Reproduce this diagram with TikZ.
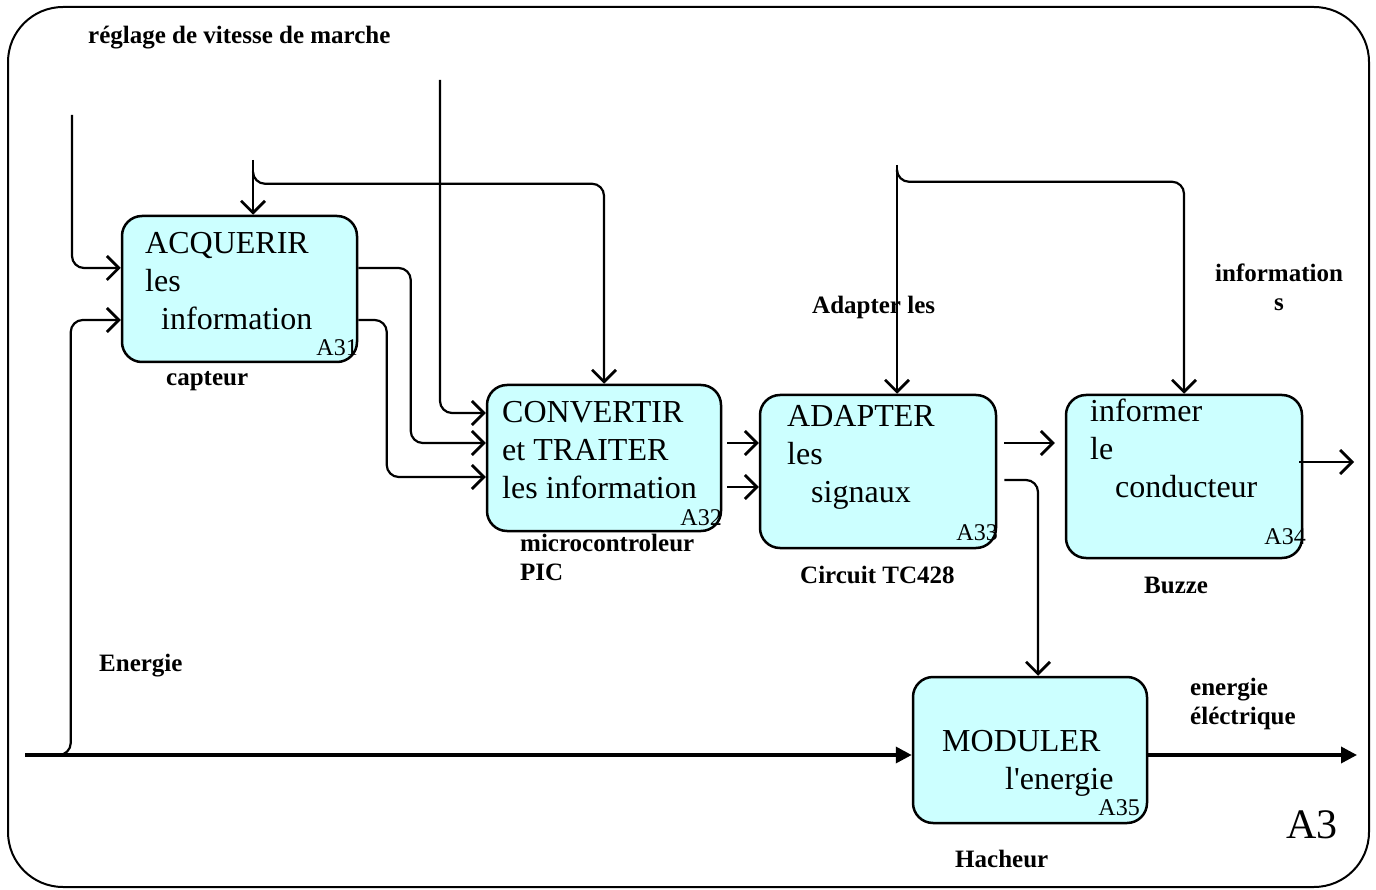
\documentclass[tikz,border=0pt]{standalone}
\usepackage{fontspec}
\setmainfont{Liberation Serif}
\usepackage{xcolor}
\usetikzlibrary{arrows.meta}
\definecolor{boxcyan}{RGB}{204,255,255}

\begin{document}
\begin{tikzpicture}[x=1pt, y=-1pt, >={Straight Barb[length=12pt,width=24pt,line width=2.8pt]}]
  \tikzstyle{block}=[rectangle, draw, line width=2.5pt, rounded corners=20pt, fill=boxcyan, minimum width=235pt, minimum height=146pt]
  \tikzstyle{txt}=[anchor=north west, align=left, inner sep=0pt, font=\fontsize{32}{38}\selectfont]
  \tikzstyle{idx}=[anchor=base east, inner sep=0pt, font=\fontsize{24}{24}\selectfont]
  \tikzstyle{lbl}=[anchor=base west, align=left, inner sep=0pt, font=\fontsize{25}{29}\selectfont\bfseries]
  \tikzstyle{flow}=[->, line width=2.2pt, rounded corners=12pt]
  \tikzstyle{power}=[-{Triangle[length=16pt,width=16pt]}, line width=3.5pt]
  \useasboundingbox (0,0) rectangle (1376,890);
  \draw[line width=2pt, rounded corners=55pt] (8,7) rectangle (1369,887);

  % les boites
  \node[block] (acq) at (239.5,289) {};
  \node[block, minimum width=234pt] (conv) at (604,458) {};
  \node[block, minimum width=236pt, minimum height=153pt] (adapt) at (878,471.5) {};
  \node[block, minimum width=236pt, minimum height=163pt] (inform) at (1184,476.5) {};
  \node[block, minimum width=234pt] (modul) at (1030,750) {};

  \node[txt] (acqtxt) at (145,232) {ACQUERIR\\les\\\hspace*{16pt}information};
  \node[txt] (convtxt) at (502,401) {CONVERTIR\\et TRAITER\\les information};
  \node[txt] (adapttxt) at (787,405) {ADAPTER\\les\\\hspace*{24pt}signaux};
  \node[txt] (informtxt) at (1090,399) {informer\\le\\\hspace*{25pt}conducteur};
  \node[txt] (modultxt) at (942,730) {MODULER\\\hspace*{63pt}l\textquotesingle energie};

  \node[idx] (acqid) at (358,356) {A31};
  \node[idx] (convid) at (722,525) {A32};
  \node[idx] (adaptid) at (998,540) {A33};
  \node[idx] (informid) at (1306,544) {A34};
  \node[idx] (modulid) at (1140,815) {A35};
  \node[anchor=base west, inner sep=0pt, font=\fontsize{42}{42}\selectfont] (niveau) at (1286,838) {A3};

  % les textes
  \node[lbl] (reglage) at (88,44) {réglage de vitesse de marche};
  \node[lbl] (capteur) at (166,386) {capteur};
  \node[lbl, anchor=north west] (micro) at (520,534) {microcontroleur\\PIC};
  \node[lbl] (circuit) at (800,583) {Circuit TC428};
  \node[lbl] (buzze) at (1144,593) {Buzze};
  \node[lbl] (adapter) at (812,314) {Adapter les};
  \node[lbl, anchor=north west, align=center] (infos) at (1215,264) {information\\s};
  \node[lbl] (energie) at (99,671) {Energie};
  \node[lbl, anchor=north west] (eout) at (1190,678) {energie\\éléctrique};
  \node[lbl] (hacheur) at (955,867) {Hacheur};

  % les entrees
  \coordinate (in1) at (72,115);
  \coordinate (in2) at (440,80);
  \coordinate (in3) at (253,160);
  \coordinate (fb1) at (253,172);
  \coordinate (in4) at (897,165);
  \coordinate (fb2) at (897,172);
  \coordinate (ein) at (25,755);
  \coordinate (ebr) at (58,755);
  \coordinate (out1) at (1354,462);
  \coordinate (out2) at (1357,755);

  % les fleches
  \draw[flow] (in1) |- ([yshift=21pt]acq.west);
  \draw[flow] (ebr) -| ([xshift=-50pt,yshift=-31pt]acq.west) -- ([yshift=-31pt]acq.west);
  \draw[power] (ein) -- ([yshift=-5pt]modul.west);
  \draw[flow] (in3) -- (in3 |- acq.north);
  \draw[flow] (fb1) |- ([yshift=200pt]conv.north) -- (conv.north);
  \draw[flow] (in2) |- ([yshift=45pt]conv.west);
  \draw[flow] ([yshift=21pt]acq.east) -| ([xshift=-75pt,yshift=15pt]conv.west) -- ([yshift=15pt]conv.west);
  \draw[flow] ([yshift=-31pt]acq.east) -| ([xshift=-99pt,yshift=-19pt]conv.west) -- ([yshift=-19pt]conv.west);
  \draw[flow] ([xshift=5pt,yshift=15pt]conv.east) -- ([yshift=28.5pt]adapt.west);
  \draw[flow] ([xshift=5pt,yshift=-29pt]conv.east) -- ([yshift=-15.5pt]adapt.west);
  \draw[flow] (in4) -- (in4 |- adapt.north);
  \draw[flow] (fb2) |- ([yshift=212pt]inform.north) -- (inform.north);
  \draw[flow, shorten <=7pt, shorten >=10pt] ([yshift=28.5pt]adapt.east) -- ([yshift=33.5pt]inform.west);
  \draw[flow] ([xshift=7pt,yshift=-8.5pt]adapt.east) -| ([xshift=8pt]modul.north);
  \draw[flow] ([xshift=-4pt,yshift=14.5pt]inform.east) -- (out1);
  \draw[power] ([yshift=-5pt]modul.east) -- (out2);
\end{tikzpicture}
\end{document}
